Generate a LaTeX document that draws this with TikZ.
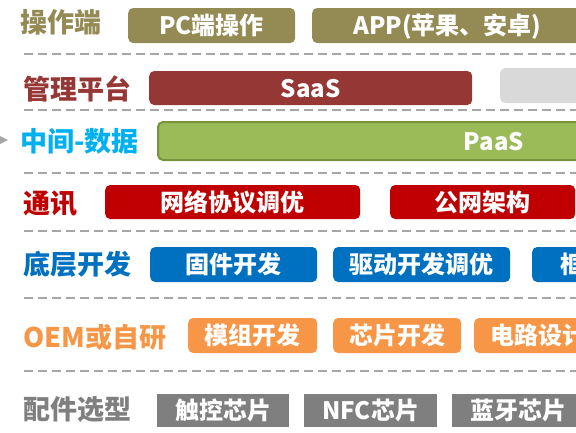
\documentclass[tikz,border=0pt]{standalone}
\usepackage{fontspec}
\newfontfamily\cjk{Noto Sans CJK SC}
\definecolor{olive}{HTML}{948A54}
\definecolor{darkred}{HTML}{953735}
\definecolor{lightgray}{HTML}{D9D9D9}
\definecolor{cyanc}{HTML}{00B0F0}
\definecolor{paasfill}{HTML}{9BBB59}
\definecolor{paasline}{HTML}{77933C}
\definecolor{redc}{HTML}{C00000}
\definecolor{bluec}{HTML}{0070C0}
\definecolor{orangec}{HTML}{F79646}
\definecolor{grayc}{HTML}{7F7F7F}
\definecolor{sepc}{HTML}{A6A6A6}
\tikzset{
  lab/.style={anchor=west, inner sep=0pt, font=\cjk\bfseries\fontsize{27}{27}\selectfont, text height=20pt, text depth=0pt},
  bx/.style={anchor=west, rounded corners=5pt, inner sep=0pt, text=white, font=\cjk\bfseries\fontsize{24}{24}\selectfont, text height=18pt, text depth=0pt},
  sq/.style={bx, sharp corners},
  sep/.style={draw=sepc, line width=1.6pt, dash pattern=on 9pt off 5pt}
}
\begin{document}
\begin{tikzpicture}[x=1pt,y=-1pt]
\useasboundingbox (0,0) rectangle (576,432);
\clip (0,0) rectangle (576,432);
% separators
\foreach \yy in {54,110,173,231,298,371} \draw[sep] (24,\yy) -- (580,\yy);
% row 1
\node[lab, text=olive] (l1) at (20,22) {操作端};
\node[bx, fill=olive, minimum width=167pt, minimum height=35pt] (pc) at (128,25.5) {PC端操作};
\node[bx, fill=olive, minimum width=270pt, minimum height=35pt] (app) at (312,25.5) {APP(苹果、安卓)};
% row 2
\node[lab, text=darkred] (l2) at (23,89.5) {管理平台};
\node[bx, fill=darkred, minimum width=323pt, minimum height=34pt] (saas) at (149,88) {SaaS};
\node[bx, fill=lightgray, minimum width=120pt, minimum height=35pt] (gray) at (500,85.5) {};
% row 3
\fill[sepc] (0,136) -- (8,140) -- (0,144) -- cycle;
\node[lab, text=cyanc] (l3) at (20,141) {中间-数据};
\node[bx, fill=paasfill, draw=paasline, line width=2pt, minimum width=672pt, minimum height=38pt] (paas) at (157,141) {PaaS};
% row 4
\node[lab, text=redc] (l4) at (23,203) {通讯};
\node[bx, fill=redc, minimum width=255pt, minimum height=34pt] (net) at (105,202) {网络协议调优};
\node[bx, fill=redc, minimum width=185pt, minimum height=34pt] (pub) at (390,202) {公网架构};
% row 5
\node[lab, text=bluec] (l5) at (23,264) {底层开发};
\node[bx, fill=bluec, minimum width=167pt, minimum height=35pt] (fw) at (150,264.5) {固件开发};
\node[bx, fill=bluec, minimum width=177pt, minimum height=35pt] (drv) at (333,264.5) {驱动开发调优};
\node[bx, fill=bluec, minimum width=80pt, minimum height=35pt] (frm) at (532,264.5) {框};
% row 6
\node[lab, text=orangec] (l6) at (23,337) {OEM或自研};
\node[bx, fill=orangec, minimum width=129pt, minimum height=35pt] (mod) at (188,335.5) {模组开发};
\node[bx, fill=orangec, minimum width=128pt, minimum height=35pt] (chip) at (333,335.5) {芯片开发};
\node[bx, fill=orangec, minimum width=128pt, minimum height=35pt] (circ) at (474,335.5) {电路设计};
% row 7
\node[lab, text=grayc] (l7) at (23,409) {配件选型};
\node[sq, fill=grayc, minimum width=132pt, minimum height=33pt] (touch) at (157,410.5) {触控芯片};
\node[sq, fill=grayc, minimum width=133pt, minimum height=33pt] (nfc) at (304,410.5) {NFC芯片};
\node[sq, fill=grayc, minimum width=133pt, minimum height=33pt] (bt) at (452,410.5) {蓝牙芯片};
\end{tikzpicture}
\end{document}
